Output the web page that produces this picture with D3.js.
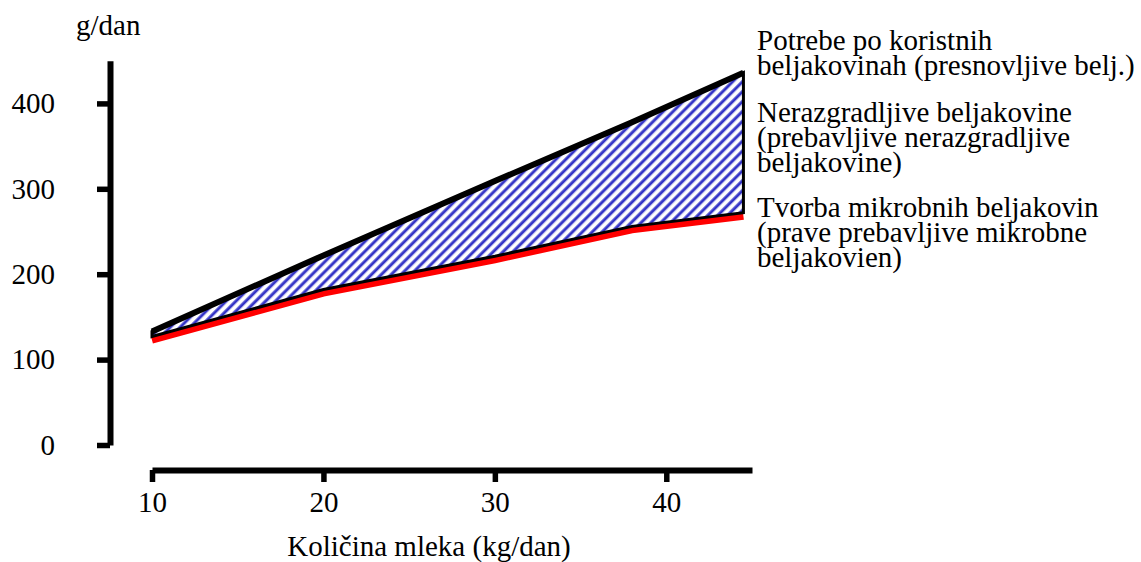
<!DOCTYPE html>
<html>
<head>
<meta charset="utf-8">
<script src="https://cdn.jsdelivr.net/npm/d3@7"></script>
<style>
  html, body { margin: 0; padding: 0; background: #fff; }
  svg { display: block; }
  svg text { font-family: "Liberation Serif", "Times New Roman", serif; }
</style>
</head>
<body>
<svg id="chart" width="1141" height="562"></svg>
<script>
// ---- data ----
const milkKg      = [10, 20, 30, 38, 44.5];          // Količina mleka (kg/dan)
const requirement = [133, 222, 309, 378, 436];       // Potrebe po koristnih beljakovinah
const microbial   = [127, 182, 221, 256, 272];       // Tvorba mikrobnih beljakovin
const yTicks = [0, 100, 200, 300, 400];
const xTicks = [10, 20, 30, 40];
const yTitle = "g/dan";
const xTitle = "Količina mleka (kg/dan)";
const legendGroups = [
  ["Potrebe po koristnih", "beljakovinah (presnovljive belj.)"],
  ["Nerazgradljive beljakovine", "(prebavljive nerazgradljive", "beljakovine)"],
  ["Tvorba mikrobnih beljakovin", "(prave prebavljive mikrobne", "beljakovien)"]
];

const rows = milkKg.map((k, i) => ({ k, top: requirement[i], bot: microbial[i] }));

const svg = d3.select("#chart");
const x = d3.scaleLinear().domain([10, 45]).range([152, 752]);
const y = d3.scaleLinear().domain([0, 450]).range([445, 60.7]);
const FONT = "Liberation Serif";
const fs = 29;

// hatch pattern
const defs = svg.append("defs");
const pat = defs.append("pattern")
  .attr("id", "hatch").attr("patternUnits", "userSpaceOnUse")
  .attr("width", 7).attr("height", 20)
  .attr("patternTransform", "rotate(45)");
pat.append("rect").attr("width", 7).attr("height", 20).attr("fill", "#ffffff");
pat.append("line").attr("x1", 1.8).attr("x2", 1.8).attr("y1", 0).attr("y2", 20)
  .attr("stroke", "#3333c6").attr("stroke-width", 3);

// red microbial line (drawn beneath, slightly lower)
const lineBot = d3.line().x(d => x(d.k)).y(d => y(d.bot));
svg.append("path").datum(rows)
  .attr("d", lineBot)
  .attr("transform", "translate(0,3.5)")
  .attr("fill", "none").attr("stroke", "#ff0000").attr("stroke-width", 7)
  .attr("stroke-linecap", "butt");

// hatched area
const area = d3.area().x(d => x(d.k)).y0(d => y(d.bot)).y1(d => y(d.top));
svg.append("path").datum(rows)
  .attr("d", area)
  .attr("fill", "url(#hatch)")
  .attr("stroke", "#000").attr("stroke-width", 3).attr("stroke-linejoin", "miter");

// thick top requirement line
const lineTop = d3.line().x(d => x(d.k)).y(d => y(d.top));
svg.append("path").datum(rows)
  .attr("d", lineTop)
  .attr("fill", "none").attr("stroke", "#000").attr("stroke-width", 6)
  .attr("stroke-linecap", "butt");

// axes
const yAxis = svg.append("g").attr("transform", "translate(110,0)")
  .call(d3.axisLeft(y).tickValues(yTicks).tickSize(13).tickSizeOuter(0).tickPadding(42));
const xAxis = svg.append("g").attr("transform", "translate(0,470)")
  .call(d3.axisBottom(x).tickValues(xTicks).tickSize(12).tickSizeOuter(0).tickPadding(9));

[yAxis, xAxis].forEach(g => {
  g.attr("font-family", FONT).attr("font-size", fs);
  g.select(".domain").attr("stroke", "#000").attr("stroke-width", 6);
  g.selectAll(".tick line").attr("stroke", "#000").attr("stroke-width", 5.5);
  g.selectAll(".tick text").attr("fill", "#000")
    .attr("font-family", FONT).attr("font-size", fs);
});

// titles
svg.append("text").attr("x", 76).attr("y", 35)
  .attr("font-family", FONT).attr("font-size", fs).attr("fill", "#000").text(yTitle);
svg.append("text").attr("x", 429).attr("y", 556).attr("text-anchor", "middle")
  .attr("font-family", FONT).attr("font-size", fs).attr("fill", "#000").text(xTitle);

// legend labels (one text element per group, lines as tspans)
const groupStart = [50, 122, 217];
const lh = 25;
legendGroups.forEach((lines, gi) => {
  const t = svg.append("text").attr("x", 757).attr("y", groupStart[gi])
    .attr("font-family", FONT).attr("font-size", fs).attr("fill", "#000");
  lines.forEach((s, li) => {
    t.append("tspan").attr("x", 757).attr("y", groupStart[gi] + li * lh).text(s);
  });
});
</script>
</body>
</html>
